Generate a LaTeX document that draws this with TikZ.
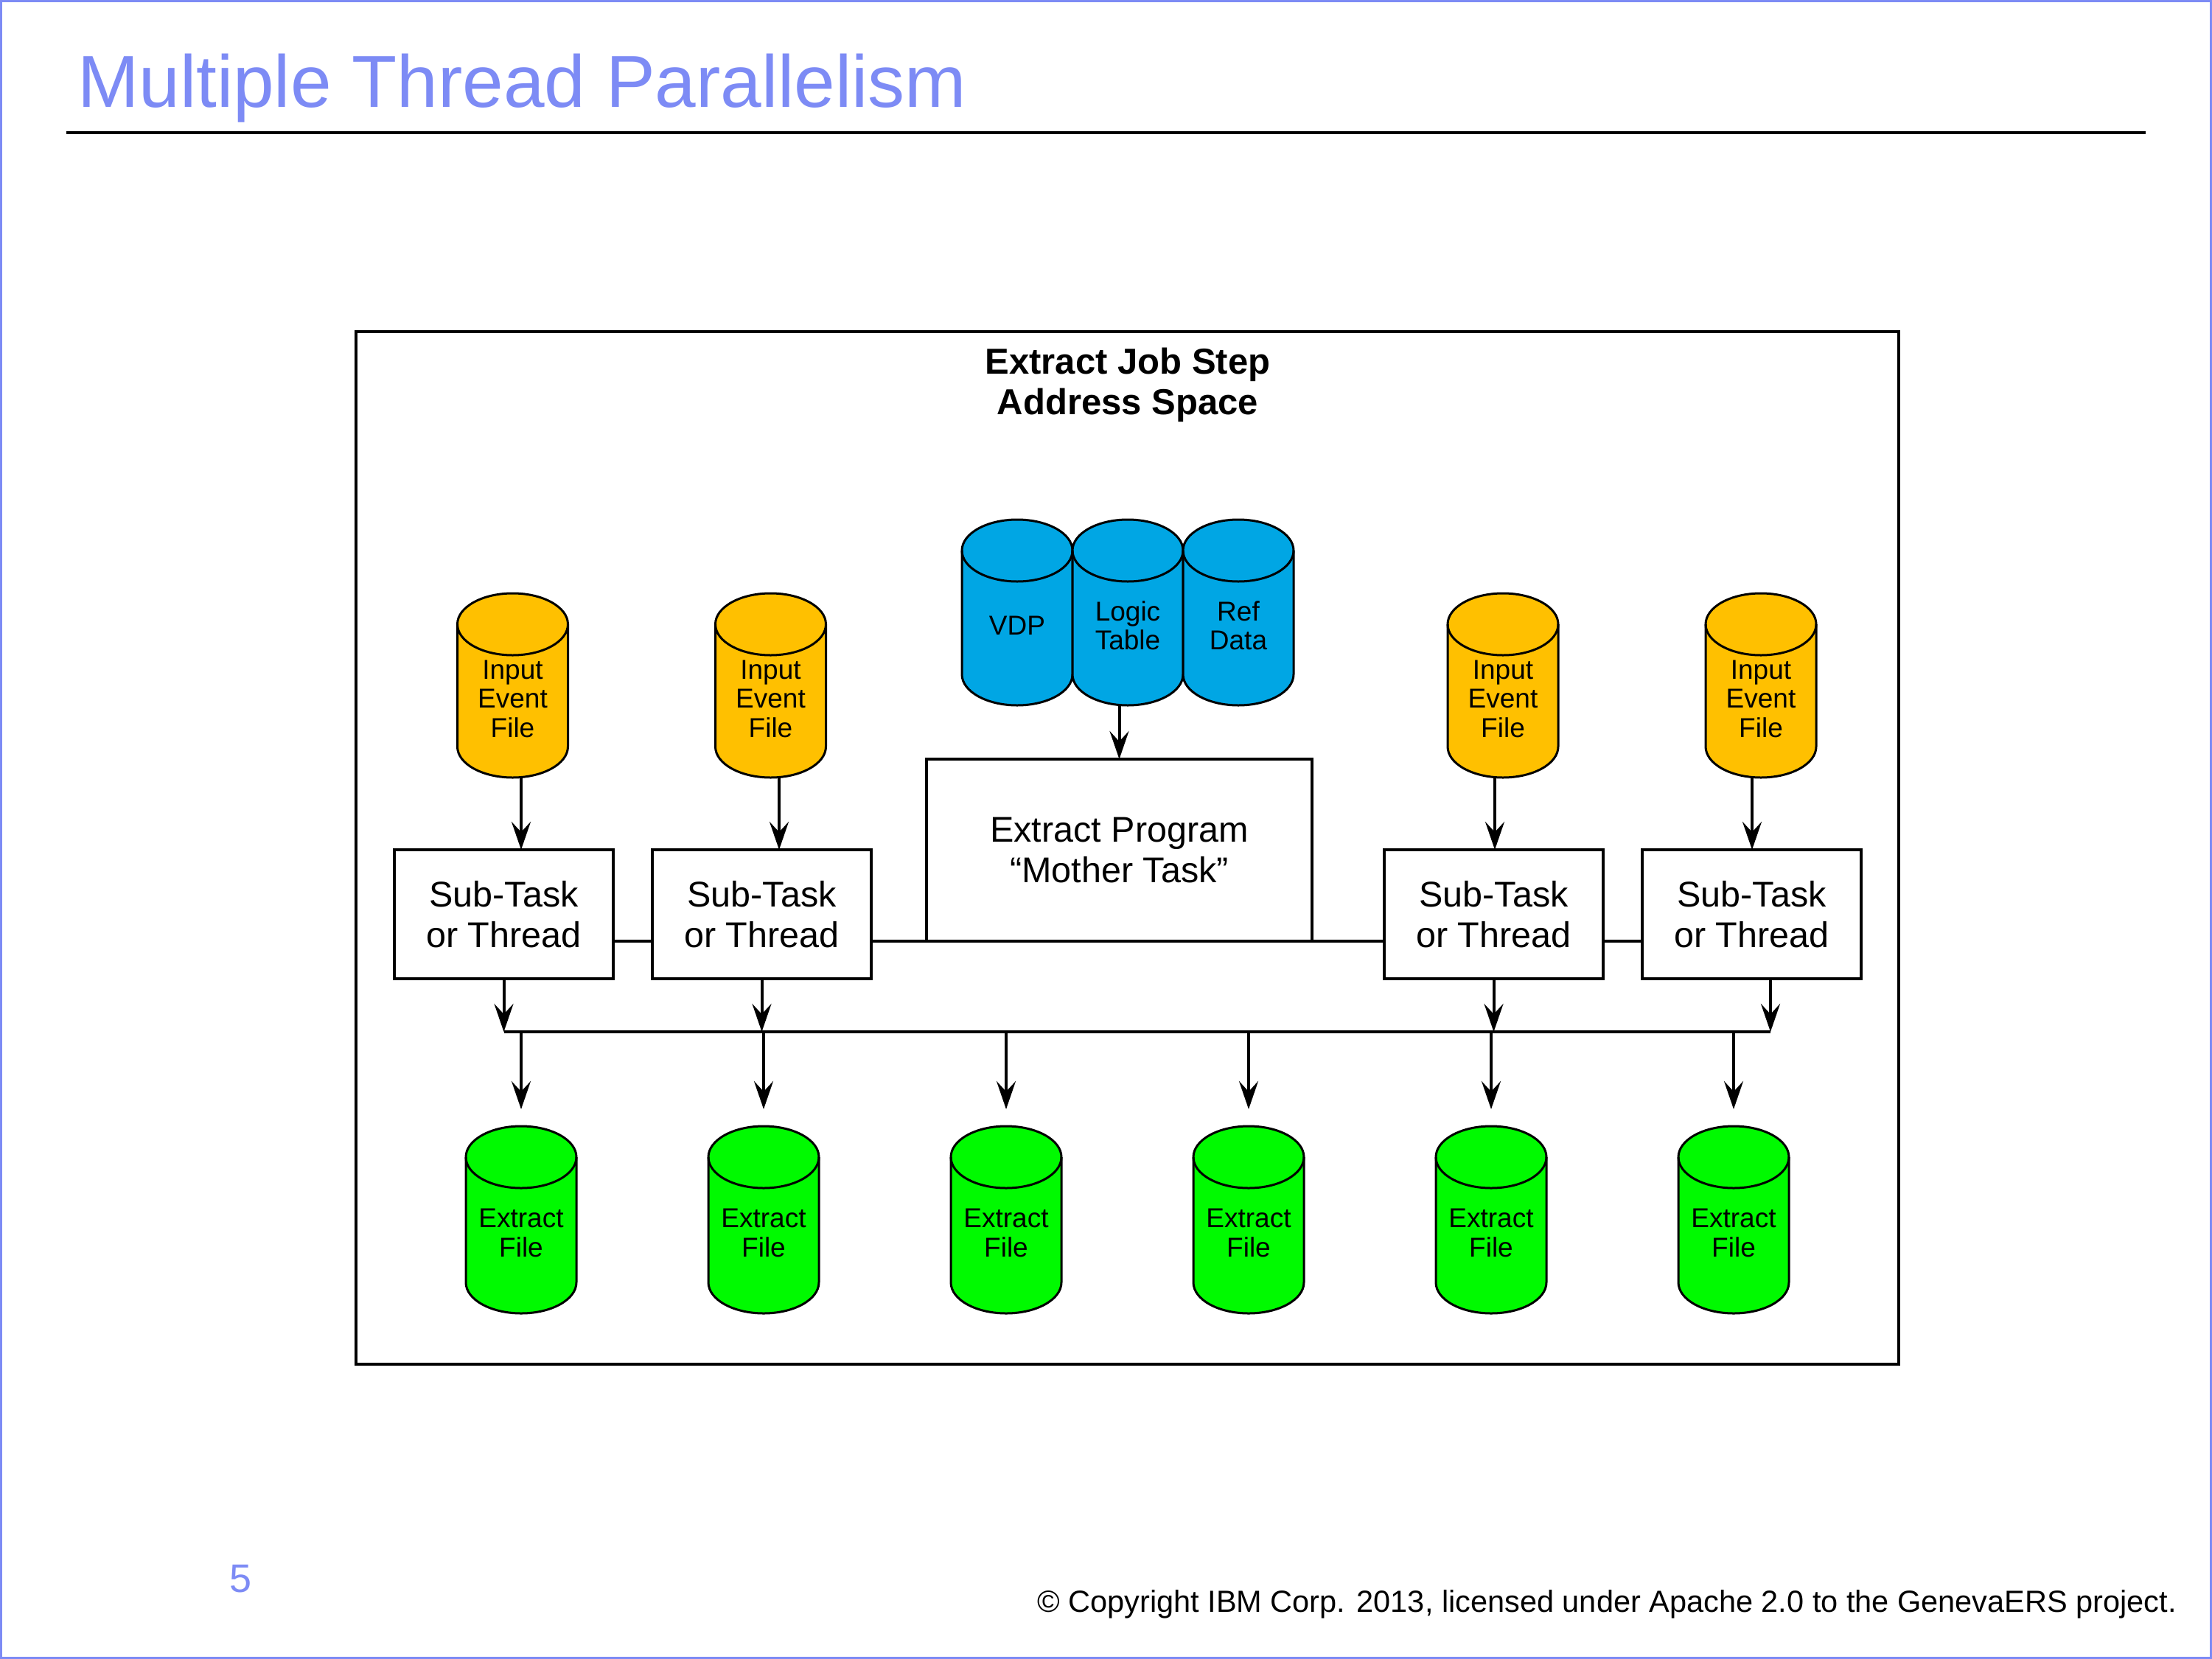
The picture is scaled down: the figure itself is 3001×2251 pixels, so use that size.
\documentclass[tikz,border=0pt]{standalone}
\usepackage{fontspec}
\setmainfont{Liberation Sans}
\usetikzlibrary{arrows.meta}

\definecolor{slateblue}{RGB}{125,139,245}
\definecolor{diskblue}{RGB}{0,166,228}
\definecolor{diskyellow}{RGB}{255,192,0}
\definecolor{diskgreen}{RGB}{0,250,0}

\tikzset{
  drumline/.style={draw=black, line width=3pt, line join=round},
  drumframe/.style={inner sep=0pt, outer sep=0pt, minimum width=150pt, draw=none},
  drumlabel/.style={inner sep=0pt, align=center, font=\fontsize{37}{39.5}\selectfont},
  taskbox/.style={draw, fill=white, line width=4pt, inner sep=0pt, outer sep=0pt,
    minimum width=297pt, minimum height=175pt, align=center,
    font=\fontsize{48.5}{55}\selectfont},
  flow/.style={line width=4pt, -{Stealth[length=38pt,width=26pt,inset=14pt]}},
  link/.style={line width=4pt},
}

% a data-set drum: name, centre x, top y, bottom y, fill colour, label
\newcommand\dbdrum[6]{%
  \path[drumline, fill=#5] (#2-75,#3+42) -- (#2-75,#4-42)
     arc[start angle=180,end angle=360,x radius=75pt,y radius=42pt]
     -- (#2+75,#3+42)
     arc[start angle=0,end angle=180,x radius=75pt,y radius=42pt] -- cycle;
  \draw[drumline] (#2-75,#3+42)
     arc[start angle=180,end angle=360,x radius=75pt,y radius=42pt];
  \node[drumframe, minimum height=#4pt-#3pt] (#1) at (#2,{(#3+#4)/2}) {};
  \node[drumlabel] (#1-text) at (#2,{(#3+#4+36)/2}) {#6};
}

\begin{document}
\begin{tikzpicture}[x=1pt,y=-1pt]
\useasboundingbox (0,0) rectangle (3001,2251);
\fill[white] (0,0) rectangle (3001,2251);
\draw[slateblue, line width=3pt] (1.5,1.5) rectangle (2999.5,2249.5);

% heading
\node[anchor=base west, inner sep=0pt, text=slateblue,
      font=\fontsize{100}{120}\selectfont] (title) at (105,145)
      {Multiple Thread Parallelism};
\draw[line width=4pt] (90,180) -- (2911,180);

% address space
\node[draw, line width=4.5pt, inner sep=0pt, outer sep=0pt,
      minimum width=2093pt, minimum height=1401pt] (space) at (1529.5,1150.5) {};
\node[anchor=base, inner sep=0pt, font=\fontsize{49}{55}\selectfont\bfseries]
      (spaceA) at (1530,507) {Extract Job Step};
\node[anchor=base, inner sep=0pt, font=\fontsize{49}{55}\selectfont\bfseries]
      (spaceB) at (1530,562) {Address Space};

% control data
\dbdrum{vdp}{1380}{705}{957}{diskblue}{VDP}
\dbdrum{lt}{1530}{705}{957}{diskblue}{Logic\\Table}
\dbdrum{ref}{1680}{705}{957}{diskblue}{Ref\\Data}

% mother task
\node[taskbox, minimum width=523pt, minimum height=247pt] (ep) at (1518.5,1153.5)
      {Extract Program\\“Mother Task”};

% sub-tasks
\node[taskbox] (st1) at (683.5,1240.5) {Sub-Task\\or Thread};
\node[taskbox] (st2) at (1033.5,1240.5) {Sub-Task\\or Thread};
\node[taskbox] (st3) at (2026.5,1240.5) {Sub-Task\\or Thread};
\node[taskbox] (st4) at (2376.5,1240.5) {Sub-Task\\or Thread};

% input event files
\dbdrum{in1}{695.5}{805}{1055}{diskyellow}{Input\\Event\\File}
\dbdrum{in2}{1045.5}{805}{1055}{diskyellow}{Input\\Event\\File}
\dbdrum{in3}{2039}{805}{1055}{diskyellow}{Input\\Event\\File}
\dbdrum{in4}{2389}{805}{1055}{diskyellow}{Input\\Event\\File}

% extract files
\foreach \i/\x in {1/707,2/1036,3/1365,4/1694,5/2023,6/2352}{
  \dbdrum{ef\i}{\x}{1528}{1782}{diskgreen}{Extract\\File}
}

% logic table feeds the mother task
\draw[flow] (ep.north |- lt.south) -- (ep.north);

% input files feed the sub-tasks
\draw[flow] ([xshift=11.5pt]in1.south) -- ([xshift=11.5pt]in1.south |- st1.north);
\draw[flow] ([xshift=11.5pt]in2.south) -- ([xshift=11.5pt]in2.south |- st2.north);
\draw[flow] ([xshift=-11pt]in3.south) -- ([xshift=-11pt]in3.south |- st3.north);
\draw[flow] ([xshift=-12pt]in4.south) -- ([xshift=-12pt]in4.south |- st4.north);

% task links
\draw[link] (st1.east |- ep.south) -- (st2.west |- ep.south);
\draw[link] (st2.east |- ep.south) -- (st3.west |- ep.south);
\draw[link] (st3.east |- ep.south) -- (st4.west |- ep.south);

% output bus
\coordinate (busL) at ([yshift=-72pt]st1.south);
\coordinate (busR) at ([xshift=25.5pt]st4.south |- busL);
\draw[link] (busL) -- (busR);
\draw[flow] (st1.south) -- (busL);
\draw[flow] (st2.south) -- (st2.south |- busL);
\draw[flow] (st3.south) -- (st3.south |- busL);
\draw[flow] ([xshift=25.5pt]st4.south) -- (busR);
\foreach \i in {1,...,6}{
  \draw[flow] (ef\i.north |- busL) -- ([yshift=23pt]ef\i.north);
}

% footer
\node[anchor=base, inner sep=0pt, text=slateblue, font=\fontsize{54}{64}\selectfont]
      (pageno) at (327,2160) {5};
\node[anchor=base east, inner sep=0pt, font=\fontsize{41.5}{50}\selectfont]
      (copyright) at (2953,2187)
      {© Copyright IBM Corp. 2013, licensed under Apache 2.0 to the GenevaERS project.};
\end{tikzpicture}
\end{document}
